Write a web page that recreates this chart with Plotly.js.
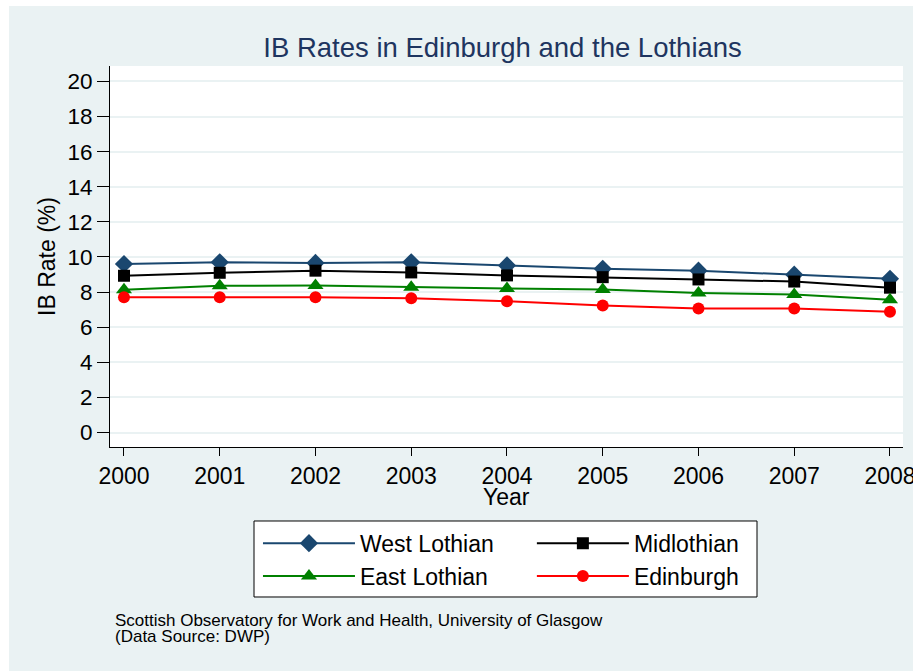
<!DOCTYPE html>
<html>
<head>
<meta charset="utf-8">
<script src="https://cdn.plot.ly/plotly-3.0.1.min.js"></script>
<style>
  html, body { margin: 0; padding: 0; background: #ffffff; width: 913px; height: 671px; overflow: hidden; }
  #chart { position: absolute; left: 9px; top: 6px; width: 904px; height: 665px; }
</style>
</head>
<body>
<div id="chart"></div>
<script>
const years = [2000, 2001, 2002, 2003, 2004, 2005, 2006, 2007, 2008];
const westLothian = [9.60, 9.70, 9.66, 9.70, 9.52, 9.33, 9.22, 8.99, 8.76];
const midlothian  = [8.93, 9.10, 9.22, 9.12, 8.95, 8.85, 8.72, 8.60, 8.25];
const eastLothian = [8.13, 8.36, 8.38, 8.27, 8.20, 8.14, 7.95, 7.86, 7.56];
const edinburgh   = [7.70, 7.71, 7.71, 7.65, 7.48, 7.24, 7.07, 7.07, 6.88];
const seriesNames = ["West Lothian", "Midlothian", "East Lothian", "Edinburgh"];
const yTicks = [0, 2, 4, 6, 8, 10, 12, 14, 16, 18, 20];
const xTicks = years;

const FONT = "Arial, 'Liberation Sans', Helvetica, sans-serif";

function tr(name, y, color, symbol, size, legend) {
  return {
    x: years, y: y, name: name, type: "scatter", mode: "lines+markers",
    line: { color: color, width: 2 },
    marker: { color: color, symbol: symbol, size: size, line: { width: 0 } },
    legend: legend
  };
}

const data = [
  tr(seriesNames[0], westLothian, "#1a476f", "diamond", 14, "legend"),
  tr(seriesNames[1], midlothian, "#000000", "square", 12, "legend2"),
  tr(seriesNames[2], eastLothian, "#008000", "triangle-up", 14, "legend"),
  tr(seriesNames[3], edinburgh, "#ff0000", "circle", 12, "legend2")
];

const legendCommon = {
  orientation: "v",
  xref: "paper", xanchor: "left",
  y: -0.196, yanchor: "top", yref: "paper",
  bgcolor: "rgba(0,0,0,0)", borderwidth: 0,
  font: { family: FONT, size: 23, color: "#000000" },
  itemwidth: 92,
  traceorder: "normal"
};

const layout = {
  width: 904, height: 665,
  paper_bgcolor: "#eaf2f3",
  plot_bgcolor: "#ffffff",
  margin: { l: 101, r: 10, t: 60, b: 224 },
  font: { family: FONT, size: 23, color: "#000000" },
  title: {
    text: "IB Rates in Edinburgh and the Lothians",
    font: { family: FONT, size: 27.5, color: "#1e3560" },
    xref: "container", x: 0.546, xanchor: "center",
    yref: "container", y: 0.938, yanchor: "middle"
  },
  xaxis: {
    range: [1999.854, 2008.136],
    tickvals: xTicks, ticktext: xTicks.map(String),
    ticks: "outside", ticklen: 8, tickcolor: "#000000", tickwidth: 1,
    ticklabeloverflow: "allow",
    showline: true, linecolor: "#000000", linewidth: 1,
    showgrid: false, zeroline: false,
    tickfont: { family: FONT, size: 23, color: "#000000" }
  },
  yaxis: {
    range: [-0.826, 20.88],
    tickvals: yTicks, ticktext: yTicks.map(String),
    ticks: "outside", ticklen: 12, tickcolor: "#000000", tickwidth: 1,
    showline: true, linecolor: "#000000", linewidth: 1,
    showgrid: true, gridcolor: "#eaf2f3", gridwidth: 2, zeroline: false,
    tickfont: { family: FONT, size: 22.5, color: "#000000" },
    title: { text: "IB Rate (%)", font: { family: FONT, size: 23, color: "#000000" }, standoff: 5 }
  },
  showlegend: true,
  legend: Object.assign({}, legendCommon, { x: 0.1866 }),
  legend2: Object.assign({}, legendCommon, { x: 0.532 }),
  shapes: [
    { type: "rect", xref: "paper", yref: "paper",
      x0: 0.1816, x1: 0.8159, y0: -0.3937, y1: -0.1942,
      fillcolor: "#ffffff", line: { color: "#000000", width: 1 }, layer: "above" }
  ],
  annotations: [
    { text: "Year",
      xref: "paper", yref: "paper", x: 0.5, y: -0.131, xanchor: "center", yanchor: "middle",
      showarrow: false, font: { family: FONT, size: 23, color: "#000000" } },
    { text: "Scottish Observatory for Work and Health, University of Glasgow",
      xref: "paper", yref: "paper", x: 0.004, y: -0.456, xanchor: "left", yanchor: "middle",
      showarrow: false, font: { family: FONT, size: 17, color: "#000000" } },
    { text: "(Data Source: DWP)",
      xref: "paper", yref: "paper", x: 0.004, y: -0.498, xanchor: "left", yanchor: "middle",
      showarrow: false, font: { family: FONT, size: 17, color: "#000000" } }
  ]
};

Plotly.newPlot("chart", data, layout, { displayModeBar: false, staticPlot: true });
</script>
</body>
</html>
